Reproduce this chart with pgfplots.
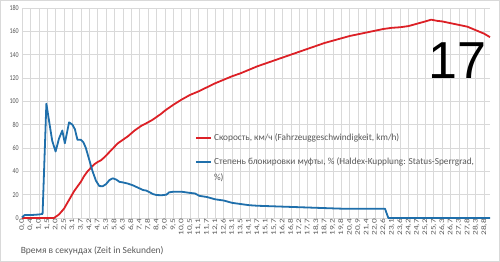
\documentclass[border=0pt]{standalone}
\usepackage{pgfplots}
\pgfplotsset{compat=1.18}
\usepackage{fontspec}
\setmainfont{Carlito}
\newfontfamily\arialfont{Liberation Sans}
\definecolor{redline}{RGB}{220,32,38}
\definecolor{blueline}{RGB}{31,111,171}
\definecolor{txtgray}{RGB}{89,89,89}
\definecolor{gridgray}{RGB}{217,217,217}
\begin{document}
\begin{tikzpicture}
\draw[gridgray, line width=0.6bp] (-21.7bp,-43.7bp) rectangle (477.7bp,217.7bp);
\begin{axis}[
  scale only axis,
  width=468bp, height=210bp,
  xmin=0, xmax=55.7, ymin=0, ymax=180,
  axis line style={draw=none},
  major tick length=0pt,
  ytick={0,20,...,180},
  xtick={0,...,55},
  xticklabels={{0,0},{0,4},{1,0},{1,5},{2,0},{2,5},{3,1},{3,7},{4,2},{4,7},{5,3},{5,8},{6,3},{6,8},{7,4},{7,8},{8,4},{9,0},{9,5},{10,0},{10,5},{11,1},{11,7},{12,1},{12,6},{13,1},{13,5},{14,1},{14,7},{15,1},{15,7},{16,2},{16,8},{17,2},{17,7},{18,3},{18,7},{19,2},{19,8},{20,4},{20,9},{21,4},{22,0},{22,6},{23,1},{23,6},{24,2},{24,7},{25,2},{25,7},{26,3},{26,7},{27,3},{27,8},{28,3},{28,8}},
  x tick label style={rotate=90, yscale=0.75, anchor=east, font=\fontsize{9.3bp}{10bp}\selectfont, text=txtgray, inner sep=1bp},
  y tick label style={xscale=0.8, font=\fontsize{7.5bp}{8bp}\selectfont, text=txtgray, inner sep=1bp, xshift=-3bp},
  /pgf/number format/assume math mode=true,
  grid=major,
  major grid style={gridgray, line width=0.5bp},
  xlabel={Время в секундах (Zeit in Sekunden)},
  xlabel style={at={(rel axis cs:0.15,0)}, anchor=center, yshift=-33bp, font=\fontsize{9.5bp}{11bp}\selectfont, text=txtgray},
  legend style={at={(axis cs:20.6,74)}, anchor=north west, draw=none, fill=none,
    font=\fontsize{9.3bp}{11bp}\selectfont, text=txtgray, row sep=12bp,
    inner sep=0pt},
  legend cell align=left,
  legend image code/.code={\draw[#1, line width=1.8bp] (0bp,0bp) -- (15bp,0bp);},
  clip=false,
]
\addplot[redline, line width=1.8bp, line join=round] coordinates {
(0,0) (3.8,0) (4.4,3) (5.0,8) (5.4,13) (5.8,18) (6.2,23) (6.6,27) (7.0,31) (7.4,36) (7.8,40) (8.2,43) (8.6,46) (9.0,48) (9.4,49.5) (9.8,52) (10.2,55) (10.6,58) (11.0,61) (11.4,64) (11.8,66) (12.2,68) (12.6,70) (13.0,72.5) (13.4,75) (13.8,77) (14.2,79) (14.6,80.5) (15.0,82) (15.5,84) (16,86.5) (16.5,89) (17.1,92.5) (18,97) (19,101.5) (20,105.5) (21,108.5) (22,112) (23,115.5) (24,118.5) (25,121.5) (26,124) (27,127) (28,130) (29,132.5) (30,135) (31,137.5) (32,140) (33,142.5) (34,145) (35,147.5) (36,150) (37,152) (38,154) (39,156) (40,157.5) (41,159) (42,160.5) (43,162) (44,163) (45,163.5) (46,164.5) (47,166.5) (48,168.5) (48.7,170) (49.4,169) (50,168.5) (51,167) (52,165.5) (53,164) (54,161) (55,158) (55.7,155)
};
\addlegendentry{Скорость, км/ч (Fahrzeuggeschwindigkeit, km/h)}
\addplot[blueline, line width=1.8bp, line join=round] coordinates {
(0,0.5) (0.3,2.5) (1,2.5) (2,3) (2.45,3.5) (2.9,98) (3.4,75) (3.6,66) (4.0,57) (4.4,68) (4.8,75) (5.1,64) (5.6,82) (6.0,80) (6.3,76) (6.6,67) (7.0,67) (7.3,65) (7.6,60) (8.0,50) (8.4,40) (8.8,32) (9.2,27.4) (9.6,27.2) (10.0,29) (10.4,32.5) (10.8,34) (11.2,33) (11.6,31) (12.0,30.5) (12.6,29.5) (13.2,28) (13.8,26) (14.4,24) (14.8,23.5) (15.2,22) (15.6,20.5) (16.0,19.7) (16.6,19.5) (17.2,20) (17.5,22) (18,22.5) (19,22.5) (20,21.5) (20.6,21) (21.1,19) (22,18) (23,16) (24,15) (25,13) (26,12) (27,11) (28,10.5) (30,10) (32,9.5) (34,9) (36,8.5) (38,8) (43.2,8) (43.6,0) (55.7,0)
};
\addlegendentry{\makebox[0pt][l]{\smash{\raisebox{-15.5bp}{\%)}}}Степень блокировки муфты, \% (Haldex-Kupplung: Status-Sperrgrad,}
\node[inner sep=0pt, anchor=center] at (axis cs:51.8,134.5) {\arialfont\fontsize{52bp}{52bp}\selectfont 17};
\end{axis}
\end{tikzpicture}
\end{document}
